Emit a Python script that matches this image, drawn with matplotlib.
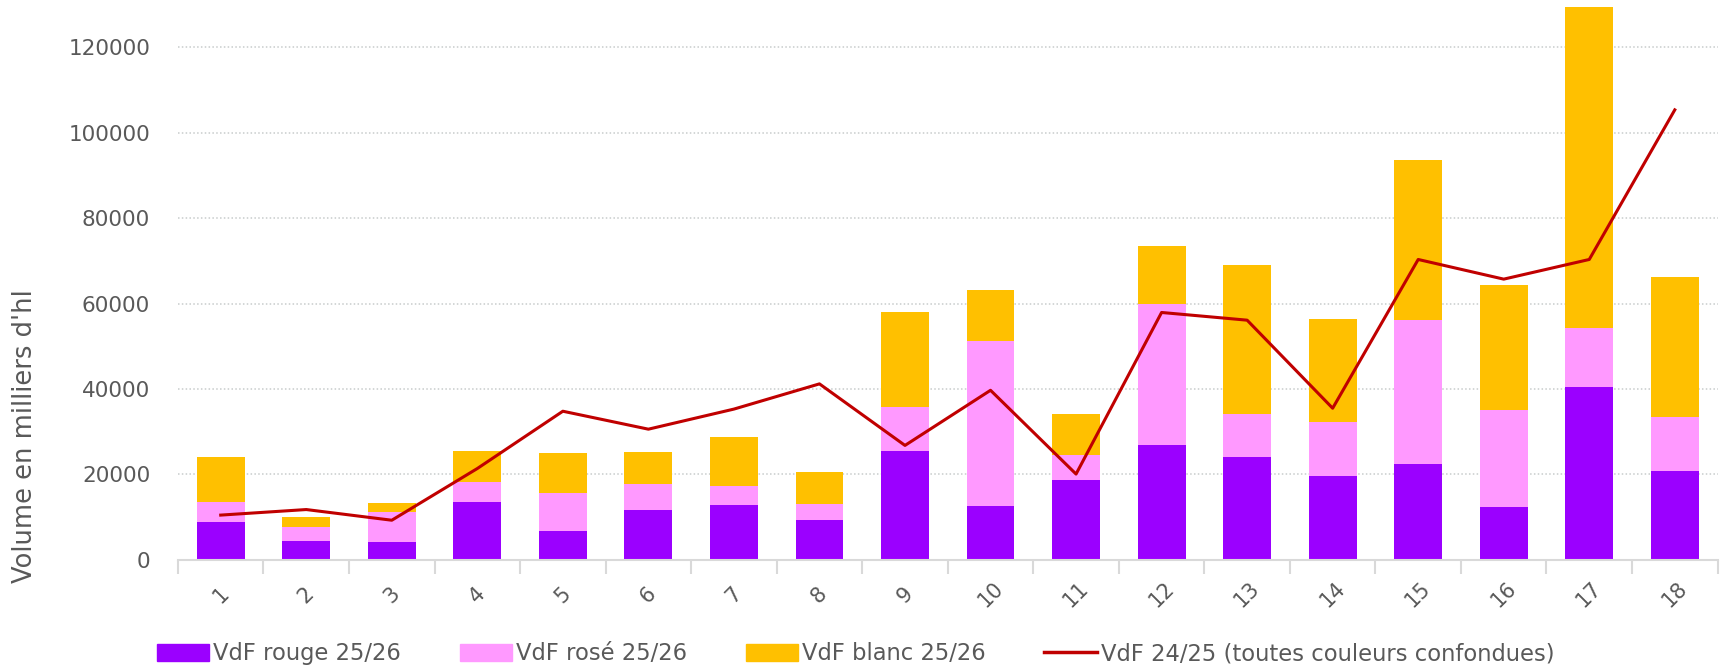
import matplotlib
matplotlib.use("Agg")
import matplotlib.pyplot as plt
import numpy as np
from matplotlib.patches import Patch
from matplotlib.lines import Line2D

categories = [str(i) for i in range(1, 19)]
rouge = [9000, 4400, 4100, 13600, 6700, 11600, 12900, 9300, 25500, 12600,
         18800, 27000, 24200, 19600, 22400, 12400, 40400, 20900]
rose_top = [13600, 7700, 11300, 18300, 15700, 17800, 17250, 13100, 35800, 51200,
            24500, 60000, 34200, 32200, 56100, 35000, 54300, 33500]
blanc_top = [24200, 10000, 13400, 25500, 25000, 25200, 28800, 20600, 57900, 63100,
             34200, 73400, 69000, 56400, 93500, 64400, 129300, 66200]
line_2425 = [10500, 11800, 9300, 21400, 34800, 30600, 35300, 41200, 26800, 39700,
             20100, 57900, 56100, 35500, 70300, 65700, 70300, 105300]

rose = [t - r for t, r in zip(rose_top, rouge)]
blanc = [t - r for t, r in zip(blanc_top, rose_top)]

plt.rcParams['font.family'] = ['DejaVu Sans']
txt = '#595959'

fig = plt.figure(figsize=(17.21, 6.68), dpi=100)
ax = fig.add_axes([0.1034, 0.1617, 0.8946, 0.8383])

x = np.arange(len(categories))
w = 0.56
c_rouge, c_rose, c_blanc = '#9B00FF', '#FF99FF', '#FFC000'
ax.bar(x, rouge, w, color=c_rouge, zorder=2)
ax.bar(x, rose, w, bottom=rouge, color=c_rose, zorder=2)
ax.bar(x, blanc, w, bottom=rose_top, color=c_blanc, zorder=2)
ax.plot(x, line_2425, color='#C00000', lw=2.2, zorder=3)

ax.set_xlim(-0.5, len(categories) - 0.5)
ax.set_ylim(0, 131000)
ax.set_yticks(np.arange(0, 120001, 20000))
ax.yaxis.grid(True, linestyle=(0, (1, 1.5)), color='#c8cccc', lw=1.1, zorder=0)
ax.set_axisbelow(True)
for s in ['top', 'right', 'left']:
    ax.spines[s].set_visible(False)
ax.spines['bottom'].set_color('#d9d9d9')
ax.spines['bottom'].set_linewidth(1.5)

ax.set_xticks(x)
ax.set_xticklabels(categories, rotation=45, ha='center', va='center',
                   rotation_mode='anchor')
ax.tick_params(axis='x', length=0, pad=25, labelsize=15, labelcolor=txt)
ax.set_xticks(np.arange(-0.5, len(categories)), minor=True)
ax.tick_params(axis='x', which='minor', length=10, width=1.5, color='#d9d9d9')
ax.tick_params(axis='y', length=0, pad=20, labelsize=15.5, labelcolor=txt)

ax.set_ylabel("Volume en milliers d'hl", fontsize=18.5, color=txt)
ax.yaxis.set_label_coords(-0.091, 0.221)

handles = [Patch(color=c_rouge), Patch(color=c_rose), Patch(color=c_blanc),
           Line2D([0], [0], color='#C00000', lw=2.5)]
labels = ['VdF rouge 25/26', 'VdF rosé 25/26', 'VdF blanc 25/26',
          'VdF 24/25 (toutes couleurs confondues)']
leg = fig.legend(handles, labels, loc='center left', bbox_to_anchor=(0.086, 0.021),
                 ncol=4, frameon=False, fontsize=16.3, handlelength=2.3,
                 handleheight=0.72, handletextpad=0.18, columnspacing=2.6,
                 labelcolor=txt, borderaxespad=0)

fig.savefig('out.png', dpi=100)
